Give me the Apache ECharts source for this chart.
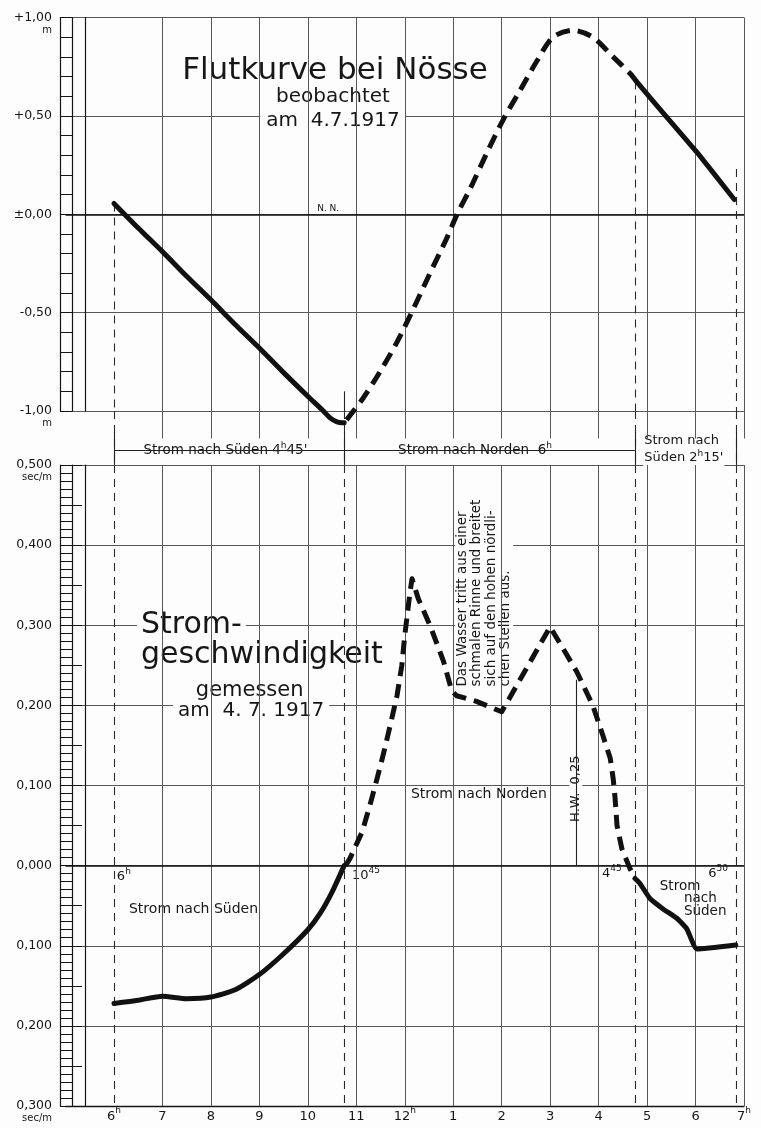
<!DOCTYPE html>
<html>
<head>
<meta charset="utf-8">
<script src="https://cdn.jsdelivr.net/npm/echarts@6/dist/echarts.min.js"></script>
<style>
html,body{margin:0;padding:0;background:#fdfdfd;}
#c{width:761px;height:1128px;}
</style>
</head>
<body>
<div id="c"></div>
<script>
// ---------- data (x = clock hour, 6 = 6h morning ... 19 = 7h evening) ----------
const hourTicks = [5, 6, 7, 8, 9, 10, 11, 12, 13, 14, 15, 16, 17, 18, 19];
const hourTickLabels = ['', '6{h|h}', '7', '8', '9', '10', '11', '12{h|h}', '1', '2', '3', '4', '5', '6', '7{h|h}'];
const gridHours = [7, 8, 9, 10, 11, 12, 13, 14, 15, 16, 17, 18, 19];
const periodBounds = [6, 10.75, 16.75, 18.8333];           // 6h, 10h45, 4h45, 6h50

const tideTickValues = [-1, -0.5, 0, 0.5, 1];
const tideTickLabels = ['-1,00', '-0,50', '±0,00', '+0,50', '+1,00'];
const speedTickValues = [-0.3, -0.2, -0.1, 0, 0.1, 0.2, 0.3, 0.4, 0.5];
const speedTickLabels = ['0,300', '0,200', '0,100', '0,000', '0,100', '0,200', '0,300', '0,400', '0,500'];

// Flutkurve (m, N.N. = 0)
const tideSolid1X = [6, 6.5, 7, 7.5, 8, 8.5, 9, 9.5, 10, 10.3, 10.46, 10.6, 10.75];
const tideSolid1Y = [0.055, -0.07, -0.19, -0.315, -0.435, -0.56, -0.68, -0.805, -0.925, -0.995, -1.035, -1.055, -1.06];
const tideDashX = [10.8, 11.14, 11.49, 11.84, 12.17, 12.52, 12.87, 13.08, 13.35, 13.70, 14.03, 14.38, 14.73, 15.06, 15.47, 15.88, 16.30, 16.65, 16.78];
const tideDashY = [-1.045, -0.935, -0.80, -0.65, -0.485, -0.30, -0.12, 0.0, 0.13, 0.315, 0.48, 0.63, 0.78, 0.9, 0.935, 0.9, 0.8, 0.715, 0.675];
const tideSolid2X = [16.78, 17.33, 18.03, 18.8];
const tideSolid2Y = [0.675, 0.515, 0.315, 0.075];

// Stromgeschwindigkeit (sec/m, north positive)
const speedSolid1X = [6, 6.5, 7, 7.5, 8, 8.5, 9, 9.5, 10, 10.25, 10.5, 10.75];
const speedSolid1Y = [-0.172, -0.168, -0.163, -0.166, -0.164, -0.155, -0.136, -0.11, -0.08, -0.06, -0.033, 0.0];
const speedDashX = [10.78, 10.87, 11.12, 11.28, 11.43, 11.55, 11.70, 11.84, 11.94, 12.0, 12.11, 12.15, 12.28, 12.52, 12.80, 12.97, 13.07, 13.48, 14.0, 15.0, 15.55, 15.88, 16.09, 16.24, 16.30, 16.34, 16.38, 16.48, 16.65, 16.75];
const speedDashY = [0.0, 0.009, 0.042, 0.075, 0.109, 0.137, 0.175, 0.212, 0.25, 0.287, 0.342, 0.358, 0.333, 0.30, 0.255, 0.218, 0.212, 0.205, 0.192, 0.298, 0.242, 0.20, 0.162, 0.134, 0.109, 0.084, 0.05, 0.021, -0.004, -0.016];
const speedSolid2X = [16.75, 16.85, 17.06, 17.33, 17.62, 17.82, 18.03, 18.83];
const speedSolid2Y = [-0.016, -0.022, -0.041, -0.054, -0.066, -0.079, -0.104, -0.099];

const hwHour = 15.53;      // H.W. marker
const hwTop = 0.232;

// ---------- styling ----------
const FONT = 'DejaVu Sans';
const INK = '#151515';
const TXT = '#161616';
const GRIDC = '#585858';
const BG = '#fdfdfd';

const pairs = (xs, ys) => xs.map((x, i) => [x, ys[i]]);
const seg = (x1, y1, x2, y2) => [{ coord: [x1, y1] }, { coord: [x2, y2] }];

function curve(xs, ys, xi, yi, dashed, smooth) {
  return {
    type: 'line', xAxisIndex: xi, yAxisIndex: yi, data: pairs(xs, ys),
    showSymbol: false, symbol: 'none', clip: false, smooth: smooth, silent: true, z: 6,
    lineStyle: { color: '#111', width: 5, type: dashed ? [14, 8] : 'solid', cap: dashed ? 'butt' : 'round', join: 'round' }
  };
}
function lines(xi, yi, data, style, z) {
  return {
    type: 'line', xAxisIndex: xi, yAxisIndex: yi, data: [], silent: true, z: z || 2,
    markLine: { silent: true, symbol: ['none', 'none'], animation: false, label: { show: false },
      emphasis: { disabled: true }, lineStyle: style, data: data }
  };
}
function notes(xi, yi, items) {
  return {
    type: 'scatter', xAxisIndex: xi, yAxisIndex: yi, symbolSize: 0, silent: true, z: 4, clip: false,
    itemStyle: { opacity: 1 },
    label: { show: true, position: 'inside', color: TXT, opacity: 1, fontFamily: FONT, fontSize: 14 },
    data: items
  };
}
const sup = { s: { fontSize: 9, lineHeight: 9, verticalAlign: 'top', color: TXT, fontFamily: FONT } };

const thin = { color: GRIDC, width: 1, type: 'solid' };
const dashedThin = { color: '#2a2a2a', width: 1.1, type: [8, 6] };
const solidDark = { color: '#222', width: 1.1, type: 'solid' };
const zeroLine = { color: '#111', width: 1.6, type: 'solid' };

const ladderLine = { show: true, onZero: false, lineStyle: { color: INK, width: 1.2 } };
const plainY = (gi, min, max, offset) => ({
  gridIndex: gi, type: 'value', min: min, max: max, position: 'left', offset: offset,
  axisLine: ladderLine, axisTick: { show: false }, axisLabel: { show: false }, splitLine: { show: false }
});
const lbl = (vals, labs, v) => labs[vals.findIndex(t => Math.abs(t - v) < 1e-6)] || '';
const yRich = {
  v: { fontSize: 12.5, lineHeight: 14, color: TXT, fontFamily: FONT },
  u: { fontSize: 10, lineHeight: 11, color: TXT, fontFamily: FONT }
};
const xBase = { type: 'value', min: 5, max: 19, interval: 1 };

const option = {
  backgroundColor: BG,
  animation: false,
  textStyle: { fontFamily: FONT, color: TXT },
  grid: [
    { left: 65.5, right: 17, top: 12.5, height: 398.5 },
    { left: 65.5, right: 17, top: 411, height: 55 },
    { left: 65.5, right: 17, top: 465, height: 641 }
  ],
  xAxis: [
    Object.assign({ gridIndex: 0, show: false }, xBase),
    Object.assign({ gridIndex: 1, show: false }, xBase),
    Object.assign({
      gridIndex: 2,
      axisLine: { show: true, onZero: false, lineStyle: { color: INK, width: 1.3 } },
      axisTick: { show: false }, splitLine: { show: false },
      axisLabel: {
        margin: 0, fontSize: 13, lineHeight: 22, color: TXT, fontFamily: FONT,
        formatter: v => hourTickLabels[hourTicks.indexOf(Math.round(v))] || '',
        rich: { h: { fontSize: 9, lineHeight: 10, verticalAlign: 'top', color: TXT, fontFamily: FONT } }
      }
    }, xBase)
  ],
  yAxis: [
    {
      gridIndex: 0, type: 'value', min: -1, max: 1, interval: 0.5, position: 'left', offset: 5.5,
      axisLine: ladderLine,
      axisTick: { show: true, inside: true, length: 12, lineStyle: { color: INK, width: 1 } },
      minorTick: { show: true, splitNumber: 5, length: 12, lineStyle: { color: INK, width: 1 } },
      splitLine: { show: true, lineStyle: thin },
      axisLabel: {
        margin: 8, color: TXT, rich: yRich,
        formatter: v => {
          const s = lbl(tideTickValues, tideTickLabels, v);
          return Math.abs(Math.abs(v) - 1) < 1e-6 ? '{u| }\n{v|' + s + '}\n{u|m}' : '{v|' + s + '}';
        }
      }
    },
    plainY(0, -1, 1, -6.5),
    plainY(0, -1, 1, -19.5),
    { gridIndex: 1, type: 'value', min: 0, max: 1, show: false },
    {
      gridIndex: 2, type: 'value', min: -0.3, max: 0.5, interval: 0.1, position: 'left', offset: 5.5,
      axisLine: ladderLine,
      axisTick: { show: true, inside: true, length: 12, lineStyle: { color: INK, width: 1 } },
      minorTick: { show: true, splitNumber: 10, length: 12, lineStyle: { color: INK, width: 1 } },
      splitLine: { show: true, lineStyle: thin },
      axisLabel: {
        margin: 8, color: TXT, rich: yRich,
        formatter: v => {
          const s = lbl(speedTickValues, speedTickLabels, v);
          return (Math.abs(v - 0.5) < 1e-6 || Math.abs(v + 0.3) < 1e-6) ? '{u| }\n{v|' + s + '}\n{u|sec/m}' : '{v|' + s + '}';
        }
      }
    },
    Object.assign(plainY(2, -0.3, 0.5, -6.5), {
      interval: 0.05,
      axisTick: { show: true, inside: true, length: 10, lineStyle: { color: INK, width: 1 } }
    }),
    plainY(2, -0.3, 0.5, -19.5)
  ],
  series: [
    // ---------- top: Flutkurve ----------
    lines(0, 0, gridHours.map(h => ({ xAxis: h })), thin, 2),
    lines(0, 0, [{ yAxis: 0 }], zeroLine, 3),
    lines(0, 0, [
      seg(periodBounds[0], 0.055, periodBounds[0], -1),
      seg(periodBounds[2], 0.675, periodBounds[2], -1),
      seg(periodBounds[3], 0.23, periodBounds[3], -1)
    ], dashedThin, 3),
    lines(0, 0, [seg(periodBounds[1], -0.9, periodBounds[1], -1)], solidDark, 3),
    curve(tideSolid1X, tideSolid1Y, 0, 0, false, 0.25),
    curve(tideDashX, tideDashY, 0, 0, true, 0.3),
    curve(tideSolid2X, tideSolid2Y, 0, 0, false, 0.1),
    notes(0, 0, [
      { value: [10.56, 0.73], label: { formatter: 'Flutkurve bei Nösse', fontSize: 31, backgroundColor: BG, padding: [1, 6] } },
      { value: [10.52, 0.597], label: { formatter: 'beobachtet', fontSize: 20, backgroundColor: BG, padding: [0, 6] } },
      { value: [10.52, 0.475], label: { formatter: 'am  4.7.1917', fontSize: 20, backgroundColor: BG, padding: [0, 6] } },
      { value: [10.42, 0.03], label: { formatter: 'N. N.', fontSize: 9 } }
    ]),

    // ---------- middle band: current periods ----------
    lines(1, 3, gridHours.map(h => seg(h, 1, h, 0.5)), thin, 2),
    lines(1, 3, periodBounds.map(h => seg(h, 1, h, 0)), dashedThin, 3),
    lines(1, 3, periodBounds.map(h => seg(h, 0.62, h, 0.02)), solidDark, 3),
    lines(1, 3, [
      seg(periodBounds[0], 0.29, periodBounds[1], 0.29),
      seg(periodBounds[1], 0.29, periodBounds[2], 0.29)
    ], solidDark, 3),
    notes(1, 3, [
      { value: [8.3, 0.29], label: { formatter: "Strom nach Süden 4{s|h}45'", fontSize: 13.5, lineHeight: 17, backgroundColor: BG, padding: [0, 4], rich: sup } },
      { value: [13.45, 0.29], label: { formatter: 'Strom nach Norden  6{s|h}', fontSize: 13.5, lineHeight: 17, backgroundColor: BG, padding: [0, 5], rich: sup } },
      { value: [16.92, 0.3], label: { formatter: "Strom nach\nSüden 2{s|h}15'", fontSize: 13, lineHeight: 17, align: 'left', backgroundColor: BG, padding: [0, 1], rich: sup } }
    ]),

    // ---------- bottom: Stromgeschwindigkeit ----------
    lines(2, 4, gridHours.map(h => ({ xAxis: h })), thin, 2),
    lines(2, 4, [{ yAxis: 0 }], zeroLine, 3),
    lines(2, 4, periodBounds.map(h => seg(h, 0.5, h, -0.3)), dashedThin, 3),
    lines(2, 4, [seg(hwHour, 0, hwHour, hwTop)], solidDark, 3),
    curve(speedSolid1X, speedSolid1Y, 2, 4, false, 0.2),
    curve(speedDashX, speedDashY, 2, 4, true, false),
    curve(speedSolid2X, speedSolid2Y, 2, 4, false, 0.15),
    notes(2, 4, [
      { value: [6.475, 0.2995], label: { formatter: 'Strom-', fontSize: 30, align: 'left', backgroundColor: BG, padding: [0, 4] } },
      { value: [6.475, 0.262], label: { formatter: 'geschwindigkeit', fontSize: 30, align: 'left', backgroundColor: BG, padding: [0, 4] } },
      { value: [8.8, 0.218], label: { formatter: 'gemessen', fontSize: 21, backgroundColor: BG, padding: [0, 5] } },
      { value: [8.83, 0.193], label: { formatter: 'am  4. 7. 1917', fontSize: 20, backgroundColor: BG, padding: [0, 5] } },
      { value: [13.04, 0.221], label: { formatter: 'Das Wasser tritt aus einer\nschmalen Rinne und breitet\nsich auf den hohen nördli-\nchen Stellen aus.', fontSize: 13.5, lineHeight: 14.5, align: 'left', verticalAlign: 'top', rotate: 90, backgroundColor: BG, padding: [0, 2] } },
      { value: [hwHour, 0.096], label: { formatter: 'H.W.  0,25', fontSize: 13, rotate: 90, backgroundColor: BG, padding: [0, 3] } },
      { value: [13.53, 0.0886], label: { formatter: 'Strom nach Norden', fontSize: 14, backgroundColor: BG, padding: [1, 4] } },
      { value: [6.06, -0.0137], label: { formatter: '6{s|h}', fontSize: 13, lineHeight: 18, align: 'left', rich: sup } },
      { value: [10.91, -0.0125], label: { formatter: '10{s|45}', fontSize: 13, lineHeight: 18, align: 'left', rich: sup } },
      { value: [16.07, -0.01], label: { formatter: '4{s|45}', fontSize: 13, lineHeight: 18, align: 'left', rich: sup } },
      { value: [18.26, -0.01], label: { formatter: '6{s|50}', fontSize: 13, lineHeight: 18, align: 'left', rich: sup } },
      { value: [6.31, -0.055], label: { formatter: 'Strom nach Süden', fontSize: 14, align: 'left' } },
      { value: [17.68, -0.026], label: { formatter: 'Strom', fontSize: 13.5 } },
      { value: [17.76, -0.049], label: { formatter: 'nach\nSüden', fontSize: 13.5, lineHeight: 13, align: 'left' } }
    ])
  ]
};

const chart = echarts.init(document.getElementById('c'), null, { renderer: 'canvas' });
chart.setOption(option);
</script>
</body>
</html>
